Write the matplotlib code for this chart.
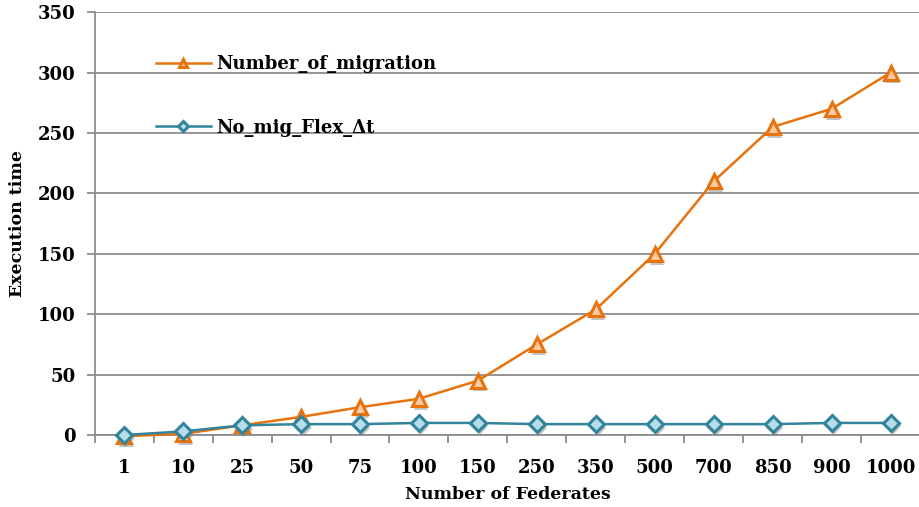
import matplotlib
matplotlib.use('Agg')
import matplotlib.pyplot as plt
import matplotlib.patheffects as pe
import numpy as np

federates = ['1', '10', '25', '50', '75', '100', '150', '250', '350', '500', '700', '850', '900', '1000']
num_migration = [-1, 1, 8, 15, 23, 30, 45, 75, 104, 150, 210, 255, 270, 300]
no_mig_flex = [0, 3, 8, 9, 9, 10, 10, 9, 9, 9, 9, 9, 10, 10]

plt.rcParams['font.family'] = ['DejaVu Serif']
plt.rcParams['font.weight'] = 'bold'

fig = plt.figure(figsize=(9.2, 5.07), dpi=100)
ax = fig.add_axes([0.103, 0.142, 0.897, 0.834])

x = np.arange(len(federates))
orange = '#E8720C'
teal = '#31849B'
shadow_only = [pe.SimplePatchShadow(offset=(1.5, -2.5), alpha=0.35, shadow_rgbFace='#555555')]

# soft marker shadows
ax.plot(x, num_migration, ls='none', marker='^', ms=10.5, mfc='k', mec='k', mew=2.2,
        clip_on=False, zorder=2, path_effects=shadow_only)
ax.plot(x, no_mig_flex, ls='none', marker='D', ms=8.5, mfc='k', mec='k', mew=2.2,
        clip_on=False, zorder=2, path_effects=shadow_only)

ax.plot(x, num_migration, color=orange, lw=1.8, marker='^', ms=10.5,
        mfc='#FBCBA5', mec=orange, mew=2.2, clip_on=False, zorder=3,
        label='Number_of_migration')
ax.plot(x, no_mig_flex, color=teal, lw=1.8, marker='D', ms=8.5,
        mfc='#B7DEE8', mec=teal, mew=2.2, clip_on=False, zorder=4,
        label='No_mig_Flex_\u0394t')

ax.set_xlim(-0.5, len(federates) - 0.5)
ax.set_ylim(0, 350)
ax.set_yticks(np.arange(0, 351, 50))
ax.grid(axis='y', color='#8c8c8c', lw=1.3)
ax.set_axisbelow(True)

ax.set_xticks(x)
ax.set_xticklabels(federates)
ax.set_xticks(np.arange(-0.5, len(federates), 1), minor=True)
ax.tick_params(axis='x', which='major', length=0, pad=17, labelsize=13)
ax.tick_params(axis='x', which='minor', length=6, color='#8c8c8c', width=1.3)
ax.tick_params(axis='y', length=6, color='#8c8c8c', width=1.3, labelsize=13, pad=8)

for s in ['top', 'right']:
    ax.spines[s].set_visible(False)
for s in ['left', 'bottom']:
    ax.spines[s].set_color('#8c8c8c')
    ax.spines[s].set_linewidth(1.3)

ax.set_xlabel('Number of Federates', fontsize=12.5, fontweight='bold', labelpad=7)
ax.set_ylabel('Execution time', fontsize=12.5, fontweight='bold', labelpad=8)

leg = ax.legend(loc='upper left', bbox_to_anchor=(0.055, 0.937), frameon=False,
                labelspacing=2.52, handlelength=3.0, handletextpad=0.3, markerscale=0.6,
                prop={'size': 13, 'weight': 'bold'})

fig.savefig('out.png', dpi=100)
